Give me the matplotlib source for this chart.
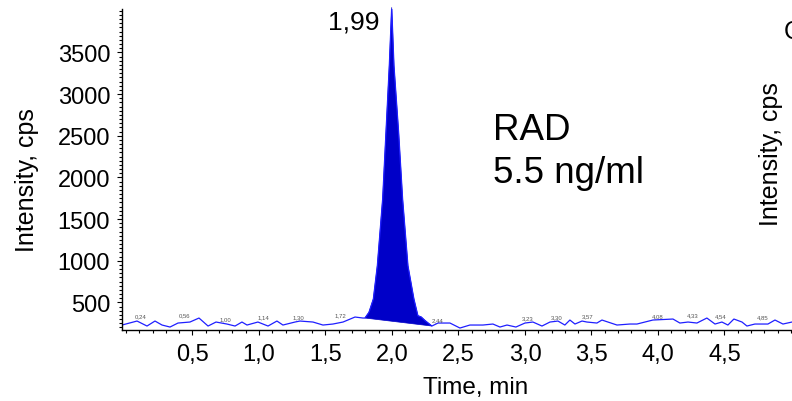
import numpy as np
import matplotlib
matplotlib.use("Agg")
import matplotlib.pyplot as plt
from matplotlib.ticker import MultipleLocator, FixedLocator, FixedFormatter

plt.rcParams['font.family'] = ['Liberation Sans', 'DejaVu Sans']

# baseline trace before the peak (time in min, intensity in cps)
t_before = [-0.03, 0.083, 0.158, 0.218, 0.271, 0.331, 0.391, 0.481, 0.549, 0.617,
            0.677, 0.759, 0.82, 0.872, 0.91, 0.992, 1.068, 1.135, 1.18, 1.271,
            1.308, 1.406, 1.481, 1.556, 1.632, 1.722, 1.782]
i_before = [228, 276, 216, 276, 228, 204, 252, 264, 312, 216,
            264, 240, 216, 264, 228, 264, 216, 276, 228, 264,
            276, 264, 228, 240, 264, 324, 312]

# the RAD peak (filled)
t_peak = [1.797, 1.827, 1.86, 1.89, 1.93, 1.955, 1.98, 1.998, 2.015, 2.05,
          2.08, 2.12, 2.165, 2.195, 2.22, 2.25, 2.30]
i_peak = [312, 380, 540, 940, 1740, 2540, 3340, 4040, 3340, 2540,
          1740, 940, 540, 340, 324, 280, 216]

# baseline trace after the peak
t_after = [2.346, 2.436, 2.511, 2.586, 2.684, 2.759, 2.812, 2.865, 2.932, 3.0,
           3.06, 3.128, 3.188, 3.248, 3.30, 3.338, 3.376, 3.429, 3.466, 3.541,
           3.579, 3.624, 3.692, 3.789, 3.842, 3.902, 3.962, 4.113, 4.165, 4.226,
           4.293, 4.368, 4.429, 4.481, 4.526, 4.571, 4.632, 4.669, 4.729, 4.827,
           4.88, 4.94, 5.008]
i_after = [252, 252, 192, 228, 228, 240, 204, 228, 204, 252,
           264, 216, 264, 276, 228, 288, 240, 276, 264, 252,
           288, 264, 228, 240, 240, 264, 288, 300, 252, 264,
           252, 312, 240, 264, 228, 300, 264, 216, 240, 240,
           288, 240, 264]

# small retention-time labels along the baseline (text, x pos, y pos)
rt_text = ['0,24', '0,56', '1,00', '1,14', '1,30', '1,72', '2,44', '3,23',
           '3,30', '3,57', '4,08', '4,33', '4,54', '4,85']
rt_x = [0.11, 0.44, 0.75, 1.03, 1.30, 1.61, 2.34, 3.02,
        3.24, 3.47, 4.00, 4.26, 4.47, 4.79]
rt_y = [312, 324, 276, 300, 300, 324, 264, 288,
        300, 312, 312, 324, 312, 300]

xtick_vals = [0.5, 1.0, 1.5, 2.0, 2.5, 3.0, 3.5, 4.0, 4.5]
xtick_labels = ['0,5', '1,0', '1,5', '2,0', '2,5', '3,0', '3,5', '4,0', '4,5']
ytick_vals = [500, 1000, 1500, 2000, 2500, 3000, 3500]

W, H = 792, 402
fig = plt.figure(figsize=(W / 100, H / 100), dpi=100)
ax = fig.add_axes([122 / W, (H - 330.7) / H, 1 - 122 / W, (330.7 - 10) / H])

line_col = '#1f1fff'
fill_col = '#0000c8'

t_all = t_before + t_peak + t_after
i_all = i_before + i_peak + i_after
ax.plot(t_all, i_all, color=line_col, lw=0.9)
ax.fill(t_peak, i_peak, color=fill_col, lw=0.5, clip_on=False)

for s, x, y in zip(rt_text, rt_x, rt_y):
    ax.text(x, y, s, fontsize=4.3, color='#555555', ha='center', va='bottom')

ax.text(1.91, 3876, '1,99', fontsize=19, ha='right', va='center')
ax.text(2.76, 2460, 'RAD', fontsize=26.5, ha='left', va='baseline')
ax.text(2.76, 1944, '5.5 ng/ml', fontsize=26.5, ha='left', va='baseline')

ax.set_xlim(-0.03, 5.008)
ax.set_ylim(172, 4020)

ax.xaxis.set_major_locator(FixedLocator(xtick_vals))
ax.xaxis.set_major_formatter(FixedFormatter(xtick_labels))
ax.xaxis.set_minor_locator(MultipleLocator(0.1))
ax.yaxis.set_major_locator(FixedLocator(ytick_vals))
ax.yaxis.set_minor_locator(MultipleLocator(50))

ax.tick_params(which='both', direction='out', width=0.8, colors='black')
ax.tick_params(which='major', length=3.5, labelsize=17)
ax.tick_params(axis='x', which='major', pad=6)
ax.tick_params(axis='y', which='major', pad=5)
ax.tick_params(which='minor', length=2.5)

for side in ['top', 'right']:
    ax.spines[side].set_visible(False)
for side in ['left', 'bottom']:
    ax.spines[side].set_linewidth(1.0)

fig.text(27 / W, 1 - 180 / H, 'Intensity, cps', fontsize=18, rotation=90,
         ha='center', va='center')
fig.text(476 / W, 1 - 388 / H, 'Time, min', fontsize=17.5, ha='center', va='center')
# pieces of the neighbouring panel, cut off at the right edge
fig.text(771 / W, 1 - 154 / H, 'Intensity, cps', fontsize=18, rotation=90,
         ha='center', va='center')
fig.text(784 / W, 1 - 32 / H, 'C', fontsize=18, ha='left', va='center')

fig.savefig('out.png', dpi=100)
